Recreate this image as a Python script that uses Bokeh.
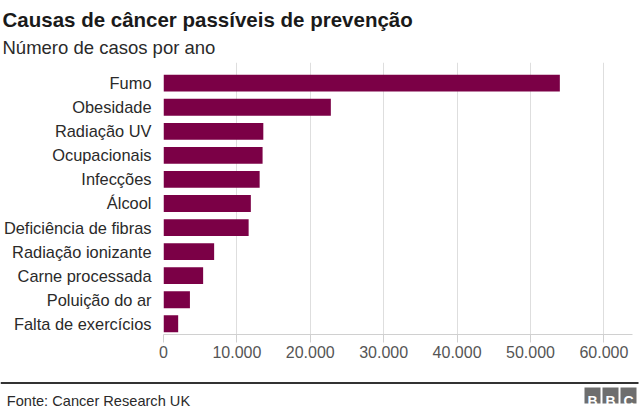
from bokeh.plotting import figure
from bokeh.layouts import column, row
from bokeh.models import Range1d, FixedTicker, Label, BoxAnnotation, ColumnDataSource
from bokeh.embed import file_html
from bokeh.resources import INLINE

# ---- data ----
categories = ["Fumo", "Obesidade", "Radiação UV", "Ocupacionais", "Infecções", "Álcool",
              "Deficiência de fibras", "Radiação ionizante", "Carne processada",
              "Poluição do ar", "Falta de exercícios"]
cases = [54000, 22800, 13600, 13500, 13100, 11900, 11600, 6900, 5400, 3600, 2000]
x_ticks = [0, 10000, 20000, 30000, 40000, 50000, 60000]
x_tick_labels = ["0", "10.000", "20.000", "30.000", "40.000", "50.000", "60.000"]

title_text = "Causas de câncer passíveis de prevenção"
subtitle_text = "Número de casos por ano"
source_text = "Fonte: Cancer Research UK"
logo_letters = ["B", "B", "C"]

FONT = "Liberation Sans"
BAR = "#7b0046"
W = 640
H_HEAD, H_MAIN, H_FOOT = 62, 308, 43


def blank(h):
    f = figure(width=W, height=h, output_backend="svg", toolbar_location=None,
               x_range=Range1d(0, W), y_range=Range1d(h, 0),
               x_axis_type=None, y_axis_type=None, min_border=0)
    f.outline_line_color = None
    f.grid.grid_line_color = None
    f.background_fill_color = "white"
    f.border_fill_color = "white"
    return f


def txt(f, x, y, text, size, bold=False, color="#222222", align="left", level="annotation"):
    f.add_layout(Label(x=x, y=y, text=text, text_font=FONT, text_font_size=size,
                       text_font_style="bold" if bold else "normal",
                       text_color=color, text_align=align, text_baseline="alphabetic",
                       level=level))


# ---- header ----
head = blank(H_HEAD)
txt(head, 2, 18.5, title_text, "20.5px", bold=True, color="#1a1a1a")
txt(head, 2, 46.5, subtitle_text, "18.5px", color="#2a2a2a")

# ---- main chart ----
n = len(categories)
ypos = [n - 1 - i for i in range(n)]
src = ColumnDataSource(dict(y=ypos, v=cases, cat=categories))

p = figure(width=W, height=H_MAIN, output_backend="svg", toolbar_location=None,
           x_range=Range1d(0, 63900), y_range=Range1d(-0.445, n - 1 + 0.86),
           min_border_left=163, min_border_right=8, min_border_top=0,
           min_border_bottom=36)
p.outline_line_color = None
p.background_fill_color = "white"
p.border_fill_color = "white"

p.hbar(y="y", right="v", left=0, height=0.7, source=src, color=BAR, line_color=None)

xa = p.xaxis[0]
xa.ticker = FixedTicker(ticks=x_ticks)
xa.major_label_overrides = dict(zip(x_ticks, x_tick_labels))
xa.axis_line_color = "#d0d0d0"
xa.major_tick_line_color = "#d0d0d0"
xa.major_tick_out = 8
xa.major_tick_in = 0
xa.minor_tick_line_color = None
xa.major_label_text_font = FONT
xa.major_label_text_font_size = "16px"
xa.major_label_text_color = "#555555"
xa.major_label_standoff = 3

ya = p.yaxis[0]
ya.ticker = FixedTicker(ticks=ypos)
ya.major_label_overrides = dict(zip(ypos, categories))
ya.axis_line_color = None
ya.major_tick_line_color = None
ya.minor_tick_line_color = None
ya.major_label_text_font = FONT
ya.major_label_text_font_size = "16.4px"
ya.major_label_text_color = "#2a2a2a"
ya.major_label_standoff = 6

p.xgrid.grid_line_color = "#dedede"
p.ygrid.grid_line_color = None

# ---- footer ----
FOOT_TOP = H_HEAD + H_MAIN
foot = blank(H_FOOT)
foot.add_layout(BoxAnnotation(left=0, right=638, top=381.5 - FOOT_TOP, bottom=383.5 - FOOT_TOP,
                              fill_color="#333333", fill_alpha=1, line_color=None))
txt(foot, 6.3, 400 - FOOT_TOP, source_text, "14.6px", color="#2a2a2a")
for i, letter in enumerate(logo_letters):
    x0 = 584 + i * 18
    foot.add_layout(BoxAnnotation(left=x0, right=x0 + 16, top=387 - FOOT_TOP,
                                  bottom=403 - FOOT_TOP, fill_color="#6e6e6e", fill_alpha=1,
                                  line_color=None, level="underlay"))
    txt(foot, x0 + 8, 400.5 - FOOT_TOP, letter, "14px", bold=True, color="white",
        align="center", level="overlay")

layout = column(head, row(p, spacing=0), foot, spacing=0)
open("out.html", "w").write(file_html(layout, INLINE))
